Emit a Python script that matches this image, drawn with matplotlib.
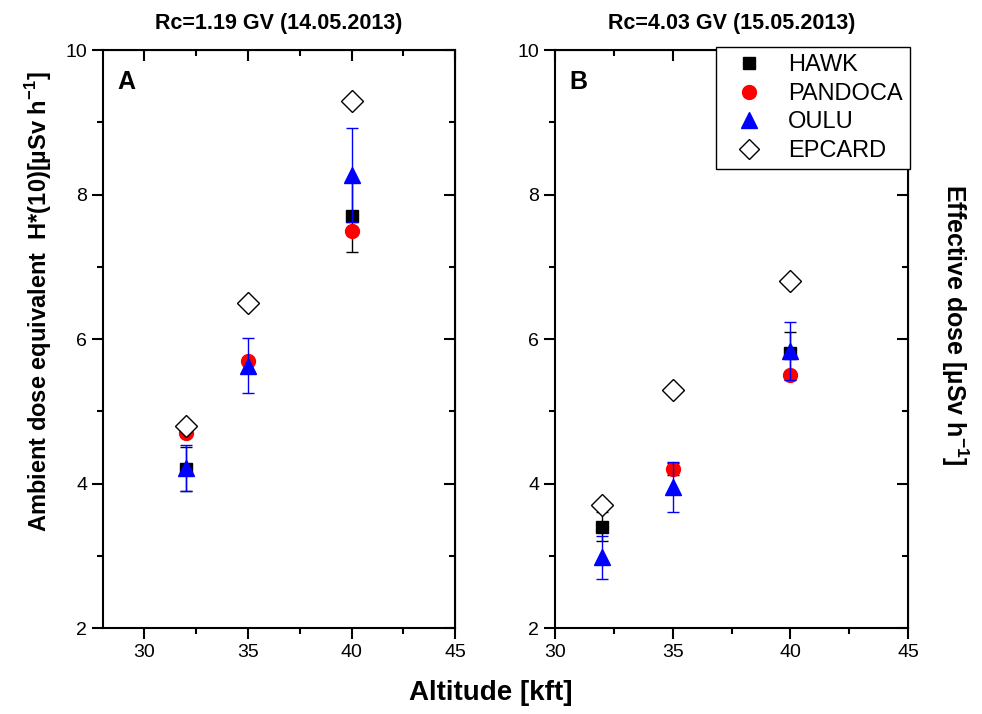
import matplotlib.pyplot as plt
from matplotlib.lines import Line2D

plt.rcParams['font.family'] = ['Liberation Sans', 'DejaVu Sans']
plt.rcParams['mathtext.fontset'] = 'custom'
plt.rcParams['mathtext.rm'] = 'Liberation Sans'
plt.rcParams['mathtext.bf'] = 'Liberation Sans:bold'

# panel A : Rc=1.19 GV
a_alt = [32, 35, 40]
a_hawk_alt = [32, 40]
a_hawk = [4.2, 7.7]
a_hawk_err = [0.3, 0.5]
a_pandoca = [4.7, 5.7, 7.5]
a_oulu = [4.22, 5.63, 8.27]
a_oulu_err = [0.32, 0.38, 0.65]
a_epcard = [4.8, 6.5, 9.3]

# panel B : Rc=4.03 GV
b_alt = [32, 35, 40]
b_hawk_alt = [32, 40]
b_hawk = [3.4, 5.8]
b_hawk_err = [0.2, 0.3]
b_pandoca = [3.7, 4.2, 5.5]
b_pandoca_err = [0.05, 0.08, 0.05]
b_oulu = [2.98, 3.95, 5.83]
b_oulu_err = [0.3, 0.35, 0.4]
b_epcard = [3.7, 5.3, 6.8]

titles = ['Rc=1.19 GV (14.05.2013)', 'Rc=4.03 GV (15.05.2013)']
names = ['HAWK', 'PANDOCA', 'OULU', 'EPCARD']

fig = plt.figure(figsize=(9.82, 7.14), dpi=100)
axA = fig.add_axes([0.1049, 0.1204, 0.3585, 0.8095])
axB = fig.add_axes([0.5652, 0.1204, 0.3595, 0.8095])


def draw(ax, alt, hawk_alt, hawk, hawk_err, pandoca, pandoca_err, oulu, oulu_err, epcard):
    ax.errorbar(hawk_alt, hawk, yerr=hawk_err, fmt='s', color='black', ms=9,
                capsize=4, elinewidth=1, zorder=3)
    ax.errorbar(alt, pandoca, yerr=pandoca_err, fmt='o', color='red', ms=10,
                ecolor='black', capsize=4, elinewidth=1, zorder=4)
    ax.errorbar(alt, oulu, yerr=oulu_err, fmt='^', color='blue', ms=12,
                capsize=4, elinewidth=1, zorder=5)
    ax.plot(alt, epcard, 'D', mfc='white', mec='black', ms=11, mew=1, zorder=6)
    ax.set_ylim(2, 10)
    ax.set_yticks([2, 4, 6, 8, 10])
    ax.set_yticks([3, 5, 7, 9], minor=True)
    ax.set_xticks([30, 35, 40, 45])
    ax.set_xticks([32.5, 37.5, 42.5], minor=True)
    for s in ax.spines.values():
        s.set_linewidth(1.5)
    ax.tick_params(which='both', labelsize=14, width=1.5, direction='out',
                   top=False, right=False)
    ax.tick_params(which='major', length=8)
    ax.tick_params(which='minor', length=4.5)
    # top/right ticks point inward
    sec_x = ax.secondary_xaxis('top')
    sec_x.set_xticks([30, 35, 40, 45])
    sec_x.set_xticks([32.5, 37.5, 42.5], minor=True)
    sec_x.tick_params(which='both', direction='in', labeltop=False, width=1.5)
    sec_x.tick_params(which='major', length=8)
    sec_x.tick_params(which='minor', length=4.5)
    sec_y = ax.secondary_yaxis('right')
    sec_y.set_yticks([2, 4, 6, 8, 10])
    sec_y.set_yticks([3, 5, 7, 9], minor=True)
    sec_y.tick_params(which='both', direction='in', labelright=False, width=1.5)
    sec_y.tick_params(which='major', length=8)
    sec_y.tick_params(which='minor', length=4.5)


draw(axA, a_alt, a_hawk_alt, a_hawk, a_hawk_err, a_pandoca, None, a_oulu, a_oulu_err, a_epcard)
draw(axB, b_alt, b_hawk_alt, b_hawk, b_hawk_err, b_pandoca, b_pandoca_err, b_oulu, b_oulu_err, b_epcard)

axA.set_xlim(28, 45)
axB.set_xlim(30, 45)

for ax, t, lab in zip([axA, axB], titles, ['A', 'B']):
    ax.set_title(t, fontsize=15.5, fontweight='bold', pad=15)
    ax.text(0.04, 0.965, lab, transform=ax.transAxes, fontsize=18,
            fontweight='bold', va='top')

axA.set_ylabel('Ambient dose equivalent  H*(10)[µSv h$^{\\mathbf{-1}}$]',
               fontsize=17, fontweight='bold')
axA.yaxis.set_label_coords(-0.14, 0.564)
fig.text(0.972, 0.545, 'Effective dose [µSv h$^{\\mathbf{-1}}$]',
         rotation=-90, fontsize=18, fontweight='bold', ha='center', va='center')
fig.text(0.5, 0.02, 'Altitude [kft]', fontsize=20, fontweight='bold', ha='center')

handles = [
    Line2D([], [], ls='none', marker='s', color='black', ms=9),
    Line2D([], [], ls='none', marker='o', color='red', ms=10),
    Line2D([], [], ls='none', marker='^', color='blue', ms=12),
    Line2D([], [], ls='none', marker='D', mfc='white', mec='black', ms=10, mew=1),
]
leg = axB.legend(handles, names, loc='upper right', bbox_to_anchor=(1.005, 1.005),
                 fontsize=17, frameon=True, fancybox=False, edgecolor='black',
                 borderpad=0.3, labelspacing=0.28, handlelength=2.2,
                 handletextpad=0.55, borderaxespad=0, framealpha=1)
leg.get_frame().set_linewidth(1)
leg.set_zorder(10)

fig.savefig('out.png', dpi=100)
